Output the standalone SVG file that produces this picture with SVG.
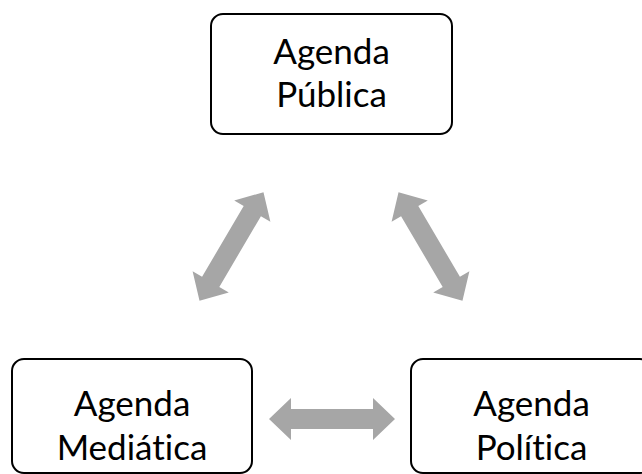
<svg xmlns="http://www.w3.org/2000/svg" width="642" height="474" viewBox="0 0 642 474">
<style>
.box{fill:#fff;stroke:#000;stroke-width:2}
.lbl{font-family:Lato,"Open Sans","Liberation Sans",sans-serif;font-size:35px;fill:#000;text-anchor:middle;font-variant-ligatures:none}
.arr{fill:#A6A6A6}
</style>
<defs>
<path id="dbl" d="M-63,0 L-41,-21 L-41,-10 L41,-10 L41,-21 L63,0 L41,21 L41,10 L-41,10 L-41,21 Z"/>
</defs>
<rect width="642" height="474" fill="#fff"/>
<g id="connectors" class="arr">
<use href="#dbl" transform="translate(231.5,246.5) rotate(-59.5)"/>
<use href="#dbl" transform="translate(430.5,246.5) rotate(59.5)"/>
<use href="#dbl" transform="translate(332,419)"/>
</g>
<g id="agenda-publica">
<rect class="box" x="211" y="14" width="241" height="120" rx="12"/>
<text class="lbl" x="331.5" y="64">Agenda</text>
<text class="lbl" x="331.5" y="107">Pública</text>
</g>
<g id="agenda-mediatica">
<rect class="box" x="12" y="359" width="240" height="114" rx="12"/>
<text class="lbl" x="132" y="416">Agenda</text>
<text class="lbl" x="132" y="460">Mediática</text>
</g>
<g id="agenda-politica">
<rect class="box" x="411" y="359" width="241" height="114" rx="12"/>
<text class="lbl" x="531.5" y="416">Agenda</text>
<text class="lbl" x="531.5" y="460">Política</text>
</g>
</svg>
